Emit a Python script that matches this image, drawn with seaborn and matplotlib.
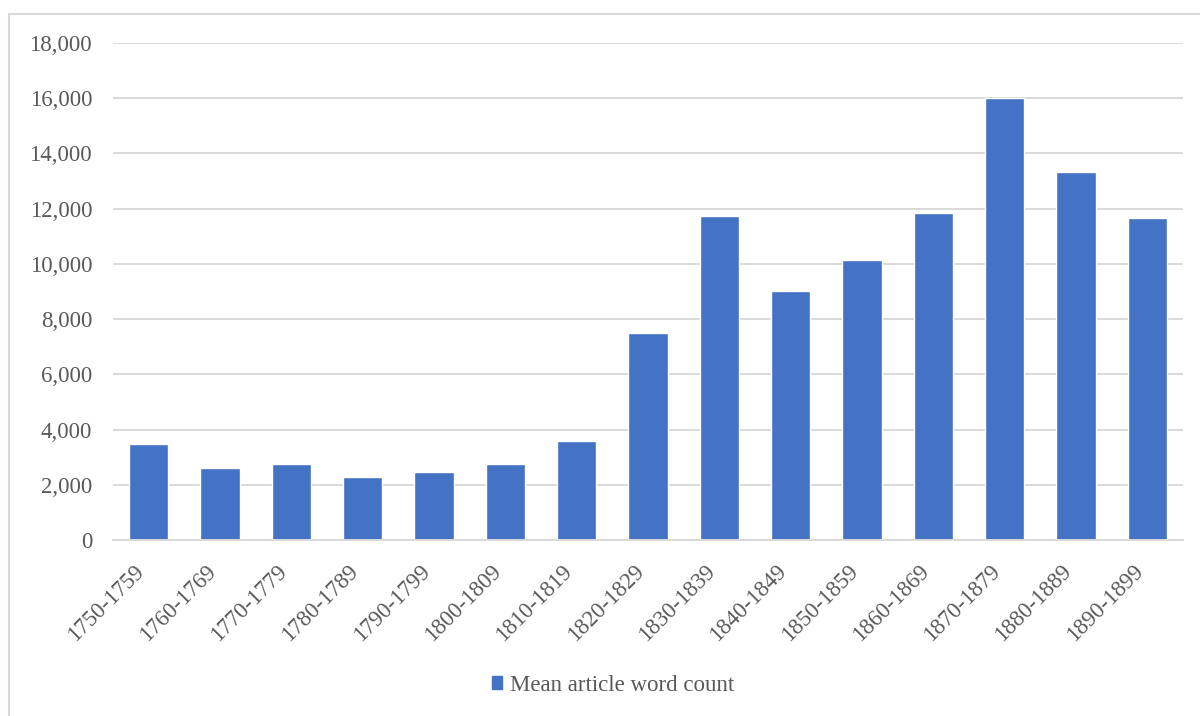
import matplotlib
matplotlib.use("Agg")
import matplotlib.pyplot as plt
from matplotlib.patches import Patch, Rectangle
from matplotlib.ticker import FuncFormatter
import seaborn as sns
import pandas as pd

# 数据
decades = ["1750-1759", "1760-1769", "1770-1779", "1780-1789", "1790-1799",
           "1800-1809", "1810-1819", "1820-1829", "1830-1839", "1840-1849",
           "1850-1859", "1860-1869", "1870-1879", "1880-1889", "1890-1899"]
word_count = [3465, 2618, 2764, 2276, 2447, 2749, 3575, 7482, 11735, 9004,
              10134, 11844, 16000, 13322, 11652]
series_name = "Mean article word count"

df = pd.DataFrame({"decade": decades, "count": word_count})

sns.set_style("white")
plt.rcParams["font.family"] = ["Liberation Serif", "DejaVu Serif"]

bar_color = "#4472C4"
text_color = "#595959"
grid_color = "#d9d9d9"

fig = plt.figure(figsize=(12, 7.16), dpi=100)
ax = fig.add_axes([113 / 1200, 1 - 540 / 716, 1070 / 1200, 497 / 716])

sns.barplot(data=df, x="decade", y="count", color=bar_color, width=0.556,
            saturation=1, ax=ax)

ax.set_ylim(0, 18000)
ax.set_xlim(-0.5, len(decades) - 0.5)
ax.set_yticks(range(0, 18001, 2000))
ax.yaxis.set_major_formatter(FuncFormatter(lambda v, p: f"{int(v):,}"))
ax.set_axisbelow(True)
ax.yaxis.grid(True, color=grid_color, linewidth=1.4)
ax.set_xlabel("")
ax.set_ylabel("")
for s in ["top", "right", "left"]:
    ax.spines[s].set_visible(False)
ax.spines["bottom"].set_color(grid_color)
ax.spines["bottom"].set_linewidth(1.4)
ax.tick_params(axis="both", length=0, labelsize=16.5, labelcolor=text_color)
ax.tick_params(axis="y", pad=15)
ax.tick_params(axis="x", pad=15)
plt.setp(ax.get_xticklabels(), rotation=45, ha="right", va="top")

# 图例
fig.legend(handles=[Patch(color=bar_color, label=series_name)],
           loc="center", bbox_to_anchor=(0.511, 0.043), frameon=False,
           fontsize=16.5, labelcolor=text_color, handlelength=0.45,
           handleheight=0.45, handletextpad=0.35)

# 图表外框
fig.patches.append(Rectangle((9 / 1200, -0.05), 1.1, 1 - 14 / 716 + 0.05,
                             transform=fig.transFigure, fill=False,
                             edgecolor=grid_color, linewidth=1.5))

fig.savefig("out.png", dpi=100)
